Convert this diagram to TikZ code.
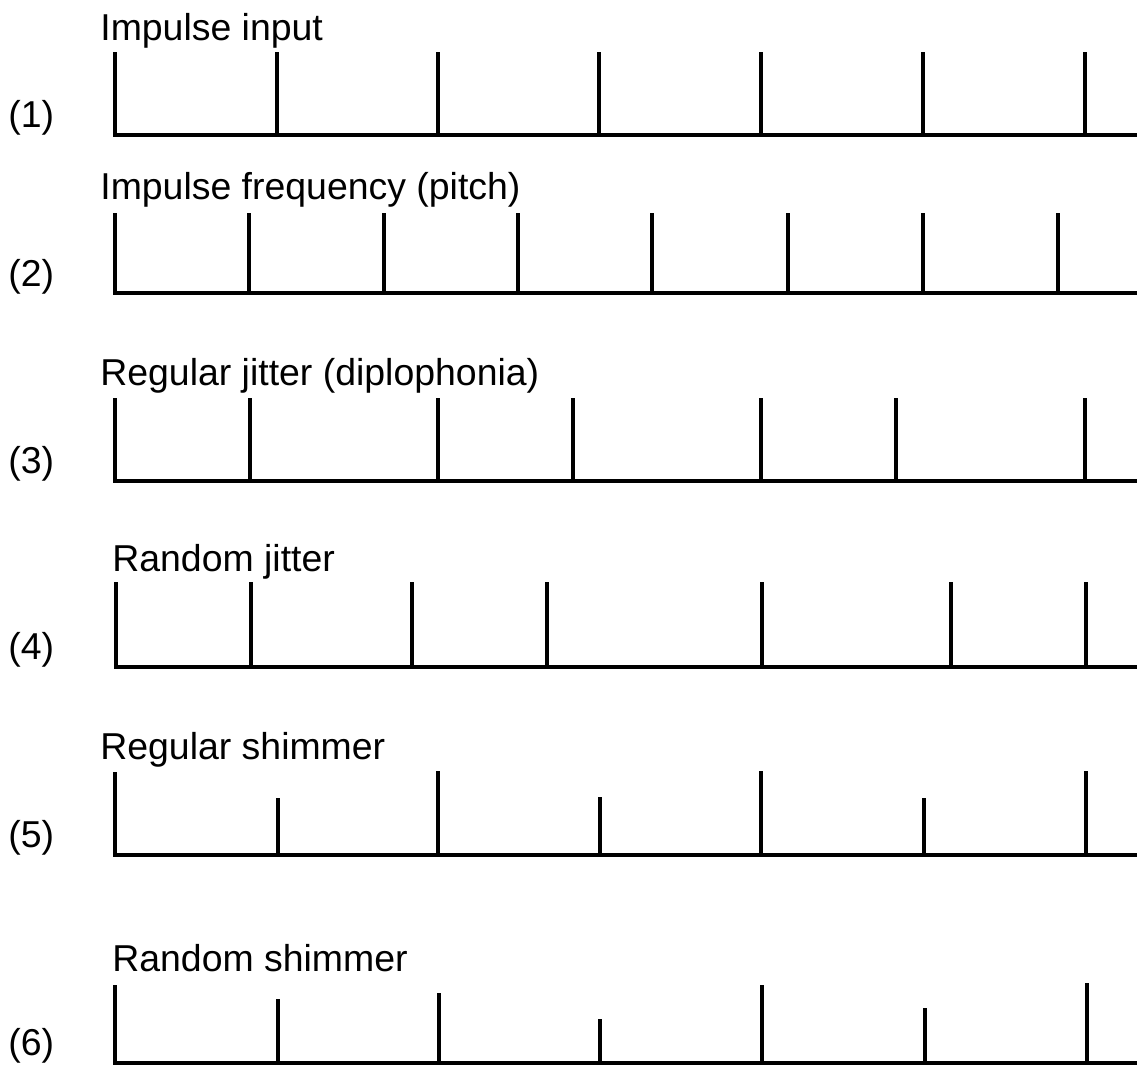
\documentclass[tikz,border=0pt]{standalone}
\usepackage{fontspec}
\setmainfont{Liberation Sans}
\usepackage{tikz}
\usetikzlibrary{positioning}
\tikzset{
  rownum/.style={anchor=base west, inner sep=0pt, font=\fontsize{21.3}{25}\selectfont},
  sigtitle/.style={anchor=base west, inner sep=0pt, font=\fontsize{21.3}{25}\selectfont},
  axisline/.style={line width=2.3pt},
  pulse/.style={line width=2.5pt},
}

\begin{document}
\begin{tikzpicture}[x=0.02cm, y=-0.02cm]
  \useasboundingbox (0,0) rectangle (1137,1066);

  % (1) impulse input
  \node[rownum] (num1) at (8,127) {(1)};
  \node[sigtitle] (title1) at (100,40) {Impulse input};
  \draw[axisline] (115,52) |- (1137,135);
  \draw[pulse] (277,135) -- (277,52) (438,135) -- (438,52) (599,135) -- (599,52)
    (761,135) -- (761,52) (923,135) -- (923,52) (1085,135) -- (1085,52);

  % (2) higher pitch
  \node[rownum] (num2) at (8,286) {(2)};
  \node[sigtitle] (title2) at (100,199) {Impulse frequency (pitch)};
  \draw[axisline] (115,213) |- (1137,293);
  \draw[pulse] (249,293) -- (249,213) (384,293) -- (384,213) (518,293) -- (518,213)
    (652,293) -- (652,213) (788,293) -- (788,213) (923,293) -- (923,213) (1058,293) -- (1058,213);

  % (3) regular jitter
  \node[rownum] (num3) at (8,473) {(3)};
  \node[sigtitle] (title3) at (100,385) {Regular jitter (diplophonia)};
  \draw[axisline] (115,398) |- (1137,481);
  \draw[pulse] (250,481) -- (250,398) (438,481) -- (438,398) (573,481) -- (573,398)
    (761,481) -- (761,398) (896,481) -- (896,398) (1085,481) -- (1085,398);

  % (4) random jitter
  \node[rownum] (num4) at (8,659) {(4)};
  \node[sigtitle] (title4) at (112,571) {Random jitter};
  \draw[axisline] (116,582) |- (1137,667);
  \draw[pulse] (251,667) -- (251,582) (412,667) -- (412,582) (547,667) -- (547,582)
    (762,667) -- (762,582) (951,667) -- (951,582) (1086,667) -- (1086,582);

  % (5) regular shimmer
  \node[rownum] (num5) at (8,847) {(5)};
  \node[sigtitle] (title5) at (100,759) {Regular shimmer};
  \draw[axisline] (115,772) |- (1137,855);
  \draw[pulse] (278,855) -- (278,798) (438,855) -- (438,771) (600,855) -- (600,797)
    (761,855) -- (761,771) (924,855) -- (924,798) (1086,855) -- (1086,771);

  % (6) random shimmer
  \node[rownum] (num6) at (8,1055) {(6)};
  \node[sigtitle] (title6) at (112,971) {Random shimmer};
  \draw[axisline] (115,985) |- (1137,1063);
  \draw[pulse] (278,1063) -- (278,999) (439,1063) -- (439,993) (600,1063) -- (600,1019)
    (762,1063) -- (762,985) (925,1063) -- (925,1008) (1087,1063) -- (1087,983);
\end{tikzpicture}
\end{document}
